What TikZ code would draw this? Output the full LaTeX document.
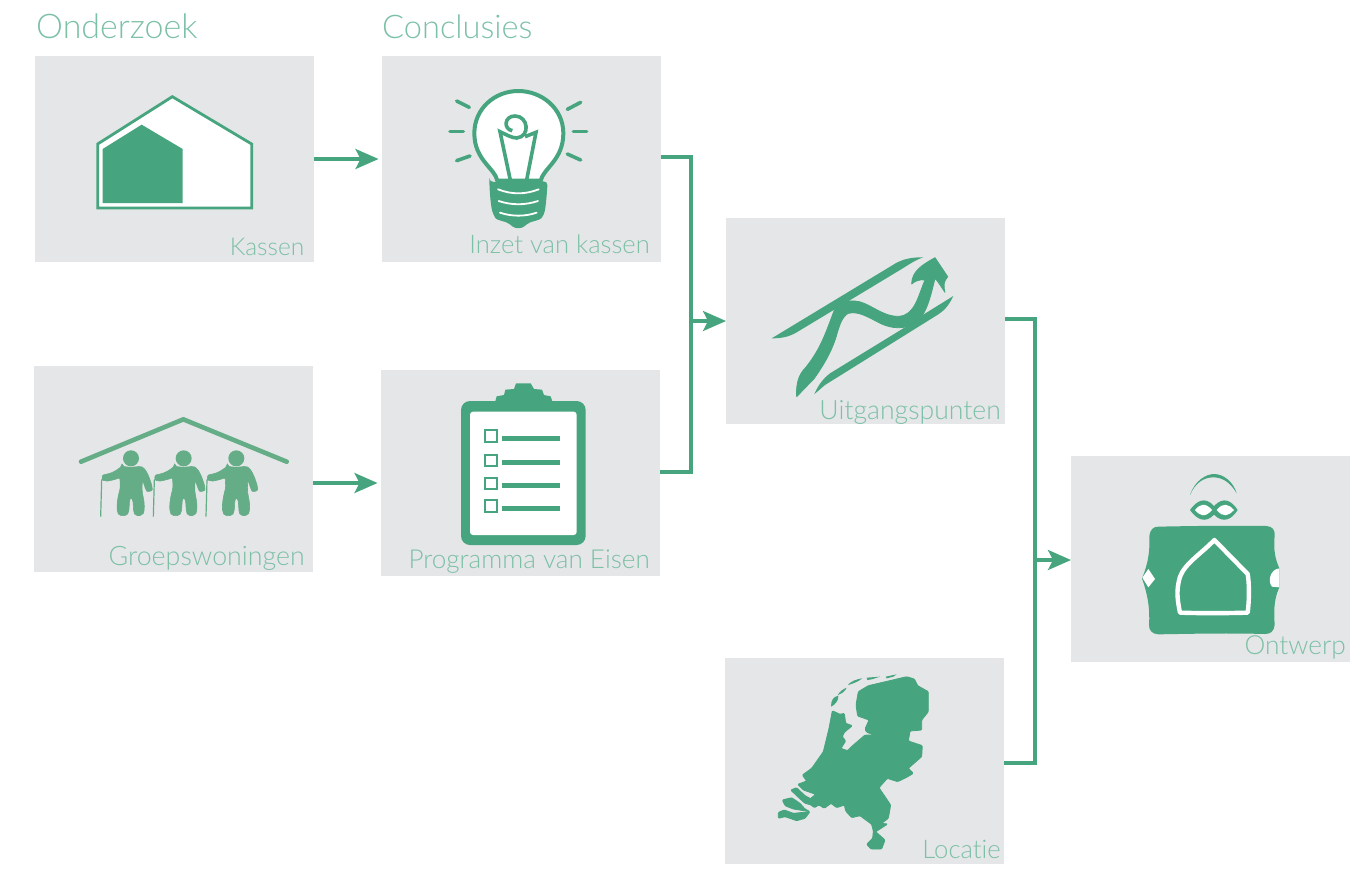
\documentclass[tikz,border=0pt]{standalone}
\usepackage{fontspec}
\setmainfont{Lato}[UprightFont=* Light,Ligatures={NoCommon}]
\usetikzlibrary{arrows.meta}
\definecolor{grn}{HTML}{46A57E}
\definecolor{ppl}{HTML}{64AD87}
\definecolor{pan}{HTML}{E5E6E8}
\definecolor{txt}{HTML}{7CC0A5}
\tikzset{
 panel/.style={fill=pan,draw=none,minimum width=279pt,minimum height=206pt,inner sep=0pt,outer sep=0pt},
 lbl/.style={text=txt,anchor=base east,inner sep=0pt,font=\fontsize{#1}{#1}\selectfont},
 ttl/.style={text=txt,anchor=base west,inner sep=0pt,font=\fontsize{#1}{#1}\selectfont},
 wire/.style={draw=grn,line width=3.2pt},
 arr/.style={wire,-{Stealth[length=23pt,width=20pt,inset=5pt]}},
 zm/.style 2 args={shift={(#1,#2)},x=0.33333pt,y=-0.33333pt},
 ray/.style={draw=grn,line width=3.6pt,line cap=round},
 solid fill/.style={fill=grn,draw=grn,line width=0.8pt,line join=round},
}
\begin{document}
\begin{tikzpicture}[x=1pt,y=-1pt]
\useasboundingbox (0,0) rectangle (1372,873);
\node[panel] (kassen) at (174.5,159) {};
\node[panel] (inzet) at (521.5,159) {};
\node[panel] (groep) at (173.5,469) {};
\node[panel] (prog) at (520.5,473) {};
\node[panel] (uitg) at (865.5,321) {};
\node[panel] (ontw) at (1210.5,559) {};
\node[panel] (loc) at (864.5,761) {};
\coordinate (j1) at (691,321);
\coordinate (j2) at (1035,560);
% connectors
\draw[arr,shorten >=3.5pt] (kassen.east) -- (inzet.west);
\draw[arr,shorten >=3.5pt] (groep.east |- 0,483) -- (prog.west |- 0,483);
\draw[wire] ([yshift=2pt]inzet.east) -| (j1);
\draw[wire] ([yshift=1pt]prog.east) -| (j1);
\draw[arr] (j1) -- (uitg.west);
\draw[wire] ([yshift=2pt]uitg.east) -| (j2);
\draw[wire] ([yshift=-2pt]loc.east) -| (j2);
\draw[arr] (j2) -- (ontw.west |- j2);
% titles
\node[ttl=34] (t1) at (36,38.5) {Onderzoek};
\node[ttl=32.6] (t2) at (382,38.5) {Conclusies};
% labels
\node[lbl=24.5] (l1) at (304.5,255) {Kassen};
\node[lbl=25.6] (l2) at (650,253) {Inzet van kassen};
\node[lbl=26.8] (l3) at (305,565) {Groepswoningen};
\node[lbl=26.1] (l4) at (650,568) {Programma van Eisen};
\node[lbl=26.6] (l5) at (1001,419) {Uitgangspunten};
\node[lbl=26.3] (l6) at (1346,654) {Ontwerp};
\node[lbl=25.7] (l7) at (1001,858) {Locatie};
% greenhouse
\begin{scope}[zm={30}{0}]
\draw[grn,line width=2.8pt,fill=white,miter limit=4] (203,432)--(427,290)--(665,432)--(665,624)--(203,624)--cycle;
\fill[grn] (218,447)--(335,374)--(458,447)--(458,609)--(218,609)--cycle;
\end{scope}
% bulb
\begin{scope}[zm={380}{50}]
\draw[grn,line width=4pt,fill=white] (352,392) .. controls (345,355) and (283,330) .. (283,250) .. controls (283,175) and (345,123) .. (415,123) .. controls (485,123) and (550,175) .. (550,250) .. controls (550,330) and (490,355) .. (482,392) -- cycle;
\draw[grn,line width=3.6pt,line join=miter] (393,400) -- (360,245) .. controls (375,252) and (395,264) .. (410,264) .. controls (452,260) and (445,198) .. (405,198) .. controls (372,198) and (370,238) .. (397,242);
\draw[grn,line width=3.6pt,line join=miter] (438,400) -- (468,247) -- (435,260);
\fill[grn,rounded corners=4pt] (328,396) -- (503,394) .. controls (500,440) and (497,470) .. (492,495) .. controls (480,510) and (455,515) .. (440,522) .. controls (425,536) and (405,536) .. (390,522) .. controls (375,515) and (350,510) .. (340,495) .. controls (333,470) and (330,440) .. (328,396) -- cycle;
\draw[white,line width=1.8pt,line cap=round] (354,418) .. controls (395,434) and (435,434) .. (476,418);
\draw[white,line width=1.8pt,line cap=round] (356,453) .. controls (395,466) and (435,466) .. (474,453);
\draw[white,line width=1.8pt,line cap=round] (360,488) .. controls (395,500) and (435,500) .. (470,488);
\draw[ray] (230,153)--(268,172);
\draw[ray] (210,245)--(250,245);
\draw[ray] (230,332)--(270,318);
\draw[ray] (602,157)--(562,178);
\draw[ray] (580,245)--(620,245);
\draw[ray] (562,312)--(602,330);
\end{scope}
% elderly under a roof
\begin{scope}[zm={30}{360}]
\draw[ppl,line width=4.6pt,line cap=round,line join=round] (153,305)--(460,178)--(770,305);
\foreach \dx in {0,158,316}{
 \begin{scope}[shift={(\dx,0)}]
 \fill[ppl] (303,295) circle [radius=24];
 \filldraw[ppl,line width=0.6pt,rounded corners=2pt] (276,318) .. controls (290,322) and (316,322) .. (332,318) .. controls (348,328) and (358,350) .. (367,382) .. controls (367,394) and (352,396) .. (347,388) -- (338,360) .. controls (336,375) and (336,390) .. (338,405) .. controls (344,430) and (344,452) .. (337,466) -- (316,467) .. controls (308,450) and (312,425) .. (303,412) .. controls (296,425) and (300,450) .. (290,467) -- (268,467) .. controls (258,450) and (262,420) .. (268,395) .. controls (272,380) and (270,365) .. (270,352) .. controls (258,358) and (240,362) .. (226,364) .. controls (214,358) and (216,346) .. (226,343) .. controls (245,340) and (262,330) .. (276,318) -- cycle;
 \draw[ppl,line width=1.2pt] (212,470) -- (215,360) -- (232,352);
 \end{scope}
}
\end{scope}
% clipboard
\begin{scope}[zm={380}{365}]
\fill[grn] (345,112) -- (350,94) -- (372,90) -- (376,74) -- (402,72) -- (408,55) -- (452,55) -- (462,72) -- (486,74) -- (492,90) -- (512,94) -- (518,112) -- cycle;
\fill[grn,rounded corners=9pt] (243,108) rectangle (617,540);
\fill[white,rounded corners=3pt] (270,140) rectangle (590,510);
\foreach \y in {213,286,355,423}{
 \draw[grn,line width=1.8pt,fill=white] (316,\y-17) rectangle (350,\y+17);
 \fill[grn] (365,\y) rectangle (540,\y+15);
}
\end{scope}
% sledge graph
\begin{scope}[zm={725}{215}]
\fill[grn] (140,370) -- (515,143) .. controls (545,128) and (570,127) .. (595,127) .. controls (570,135) and (550,150) .. (530,162) -- (215,352) .. controls (190,367) and (165,370) .. (140,370) -- cycle;
\fill[grn] (268,537) .. controls (280,510) and (295,490) .. (315,475) -- (535,340) -- (585,305) -- (685,243) .. controls (670,275) and (655,288) .. (640,298) -- (300,510) .. controls (290,518) and (280,528) .. (268,537) -- cycle;
\path[solid fill] (215,545) .. controls (212,500) and (225,475) .. (240,460) .. controls (285,405) and (300,360) .. (328,285) .. controls (345,260) and (370,256) .. (390,258) .. controls (430,260) and (470,305) .. (520,304) .. controls (570,303) and (580,240) .. (600,195) .. controls (585,192) and (570,198) .. (560,207) .. controls (560,170) and (590,150) .. (630,128) -- (668,185) .. controls (655,200) and (655,215) .. (660,232) .. controls (648,215) and (640,200) .. (630,190) .. controls (618,240) and (605,295) .. (578,318) .. controls (540,347) and (500,340) .. (470,327) .. controls (430,307) and (400,287) .. (370,295) .. controls (350,305) and (342,335) .. (332,370) .. controls (315,420) and (292,455) .. (268,490) -- cycle;
\end{scope}
% design emblem
\begin{scope}[zm={1070}{450}]
\fill[grn] (360,135) .. controls (375,90) and (410,72) .. (432,72) .. controls (460,72) and (490,95) .. (500,130) .. controls (480,95) and (455,82) .. (430,82) .. controls (400,82) and (375,100) .. (360,135) -- cycle;
\fill[grn] (360,180) .. controls (380,152) and (405,138) .. (432,168) .. controls (460,138) and (485,152) .. (503,180) .. controls (485,208) and (460,222) .. (432,194) .. controls (405,222) and (380,208) .. (360,180) -- cycle;
\fill[white] (375,180) .. controls (390,162) and (405,156) .. (426,180) .. controls (405,204) and (390,198) .. (375,180) -- cycle;
\fill[white] (440,180) .. controls (460,156) and (475,162) .. (492,180) .. controls (475,198) and (460,204) .. (440,180) -- cycle;
\fill[grn] (265,230) .. controls (400,227) and (500,227) .. (590,228) .. controls (608,230) and (615,240) .. (614,255) .. controls (612,285) and (610,315) .. (628,355) -- (628,412) .. controls (610,450) and (612,490) .. (614,525) .. controls (612,545) and (600,552) .. (585,552) .. controls (480,549) and (380,551) .. (265,553) .. controls (245,552) and (237,540) .. (237,525) .. controls (240,480) and (235,440) .. (216,385) .. controls (235,340) and (240,300) .. (238,260) .. controls (240,238) and (250,230) .. (265,230) -- cycle;
\fill[white] (217,383) -- (235,357) -- (255,387) -- (235,412) -- cycle;
\fill[white] (628,355) .. controls (600,358) and (592,395) .. (606,410) -- (628,412) -- cycle;
\draw[white,line width=4.4pt,line join=round] (433,270) -- (533,372) .. controls (538,400) and (538,450) .. (533,488) .. controls (450,490) and (400,490) .. (330,488) .. controls (322,450) and (318,420) .. (330,380) .. controls (345,340) and (395,310) .. (433,270) -- cycle;
\end{scope}
% the Netherlands
\begin{scope}[zm={725}{655}]
\path[solid fill,rounded corners=1pt] (322,167) -- (345,178) -- (358,175) -- (362,205) -- (382,212) -- (358,232) -- (352,245) -- (362,258) -- (348,280) -- (367,287) -- (385,270) -- (420,240) -- (450,240) -- (425,232) -- (420,222) -- (432,195) -- (398,183) -- (393,150) -- (400,110) -- (430,92) -- (490,78) -- (545,65) -- (568,72) -- (578,92) -- (610,110) -- (610,170) -- (590,195) -- (590,225) -- (555,228) -- (550,258) -- (592,272) -- (590,305) -- (550,340) -- (565,355) -- (545,367) -- (518,380) -- (487,370) -- (462,398) -- (497,450) -- (490,490) -- (470,505) -- (488,507) -- (465,522) -- (452,530) -- (480,555) -- (470,582) -- (438,582) -- (425,568) -- (443,550) -- (445,528) -- (440,508) -- (405,482) -- (380,488) -- (362,468) -- (358,450) -- (335,458) -- (318,445) -- (298,460) -- (282,450) -- (268,458) -- (245,440) -- (272,418) -- (235,405) -- (218,388) -- (245,378) -- (232,360) -- (260,340) -- (295,290) -- (312,220) -- cycle;
\path[solid fill,rounded corners=1pt] (197,405) -- (215,398) -- (240,422) -- (268,437) -- (268,452) -- (240,445) -- (218,425) -- cycle;
\path[solid fill,rounded corners=1pt] (172,435) -- (200,428) -- (225,445) -- (240,462) -- (255,470) -- (205,462) -- (180,452) -- cycle;
\path[solid fill,rounded corners=1pt] (160,472) -- (178,465) -- (205,475) -- (255,470) -- (240,490) -- (215,497) -- (180,485) -- (160,490) -- cycle;
\fill[grn] (318,155) .. controls (318,135) and (325,125) .. (340,122) .. controls (342,135) and (330,150) .. (318,155) -- cycle;
\fill[grn] (338,120) .. controls (345,108) and (355,102) .. (365,98) .. controls (360,110) and (350,116) .. (338,120) -- cycle;
\fill[grn] (370,88) .. controls (380,78) and (395,72) .. (412,70) .. controls (400,80) and (385,85) .. (370,90) -- cycle;
\fill[grn] (425,68) -- (465,65) -- (440,73) -- (427,75) -- cycle;
\fill[grn] (482,65) -- (515,58) -- (505,65) -- (485,70) -- cycle;
\end{scope}
\end{tikzpicture}
\end{document}
